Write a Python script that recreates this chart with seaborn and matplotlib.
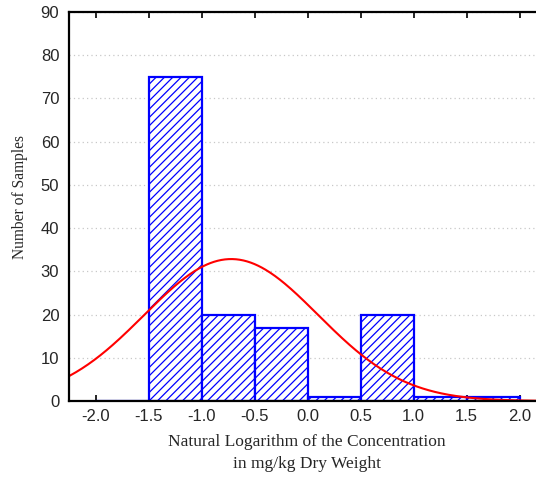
import numpy as np
import pandas as pd
import matplotlib
matplotlib.use("Agg")
import matplotlib.pyplot as plt
import seaborn as sns

# Data
bin_edges = [-2.0, -1.5, -1.0, -0.5, 0.0, 0.5, 1.0, 1.5, 2.0]
bin_counts = [0, 75, 20, 17, 1, 20, 1, 1]
fit_mean = -0.72
fit_sd = 0.82
x_ticks = [-2.0, -1.5, -1.0, -0.5, 0.0, 0.5, 1.0, 1.5, 2.0]
y_ticks = [0, 10, 20, 30, 40, 50, 60, 70, 80, 90]

sns.set_style("white")
plt.rcParams["hatch.linewidth"] = 0.9

fig = plt.figure(figsize=(5.36, 4.82), dpi=100)
ax = fig.add_axes([69 / 536, 81 / 482, 477 / 536, 389 / 482])

centers = [(a + b) / 2 for a, b in zip(bin_edges[:-1], bin_edges[1:])]
df = pd.DataFrame({"x": centers, "w": bin_counts})
sns.histplot(data=df, x="x", weights="w", bins=bin_edges, ax=ax,
             color="white", edgecolor="#0000ff", linewidth=1.6, alpha=1.0)
for p in ax.patches:
    p.set_hatch("////")
    p.set_facecolor("white")
    p.set_edgecolor("#0000ff")

# fitted normal curve
n = sum(bin_counts)
bw = bin_edges[1] - bin_edges[0]
xs = np.linspace(-2.3, 2.3, 400)
ys = n * bw / (fit_sd * np.sqrt(2 * np.pi)) * np.exp(-0.5 * ((xs - fit_mean) / fit_sd) ** 2)
sns.lineplot(x=xs, y=ys, ax=ax, color="#ff0000", linewidth=1.5)

ax.set_xlim(-2.25, 2.25)
ax.set_ylim(0, 90)
ax.set_xticks(x_ticks)
ax.set_xticklabels([f"{t:.1f}" for t in x_ticks])
ax.set_yticks(y_ticks)
ax.set_yticklabels([str(t) for t in y_ticks])
ax.tick_params(axis="x", which="both", direction="in", length=4, width=1.2,
               top=True, bottom=True, labelsize=12, pad=6, color="black")
ax.tick_params(axis="y", length=0, labelsize=12, pad=7)
for lab in ax.get_xticklabels() + ax.get_yticklabels():
    lab.set_fontfamily("Liberation Sans")

ax.yaxis.grid(True, linestyle=(0, (1, 2.5)), color="#c8c8c8", linewidth=0.9)
ax.set_axisbelow(True)
for s in ["left", "top", "bottom"]:
    ax.spines[s].set_color("black")
    ax.spines[s].set_linewidth(1.6)
ax.spines["right"].set_visible(False)

ax.set_xlabel("Natural Logarithm of the Concentration\nin mg/kg Dry Weight",
              fontfamily="Liberation Serif", fontsize=12.5, linespacing=1.5)
ax.xaxis.set_label_coords((307 - 69) / 477, -(453 - 401) / 389)
ax.xaxis.label.set_va("center")
ax.set_ylabel("Number of Samples", fontfamily="Liberation Serif", fontsize=11.2)
ax.yaxis.set_label_coords((20 - 69) / 477, (401 - 197) / 389)
ax.yaxis.label.set_va("center")

fig.savefig("out.png", dpi=100)
